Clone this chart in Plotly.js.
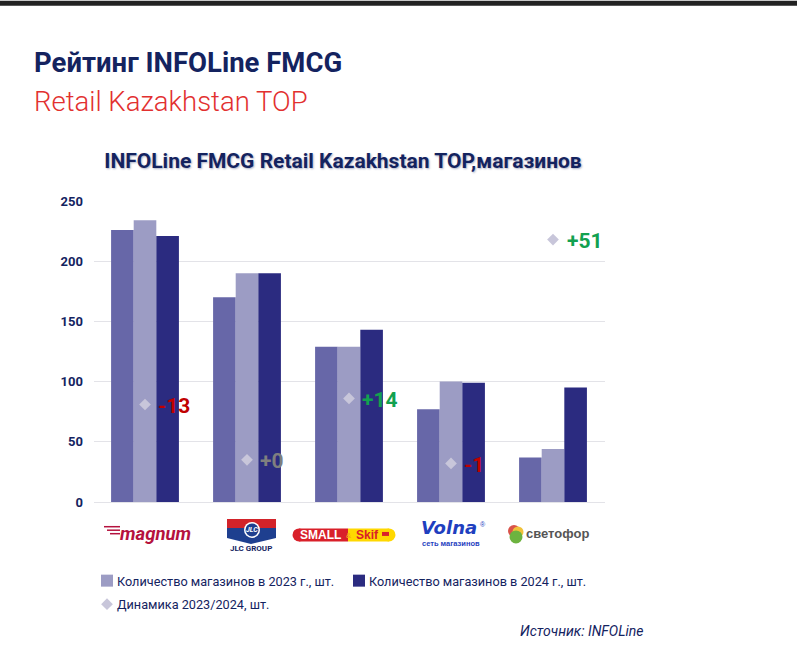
<!DOCTYPE html>
<html><head><meta charset="utf-8">
<script src="https://cdn.plot.ly/plotly-3.0.1.min.js"></script>
<style>html,body{margin:0;padding:0;background:#fff}#c{width:797px;height:657px}</style></head>
<body><div id="c"></div>
<script>
const categories = ["Magnum","JLC Group","Small & Skif","Volna","Светофор"];
const shopsEarlier = [226,170,129,77,37];
const shops2023 = [234,190,129,100,44];
const shops2024 = [221,190,143,99,95];
const dynamicsPos = [81,35,86,32,218];
const dynamicsText = ["-13","+0","+14","-1","+51"];
const dynamicsColors = ["#C00000","#7F7F7F","#12A150","#C00000","#12A150"];
const name2023 = "Количество магазинов в 2023 г., шт.";
const name2024 = "Количество магазинов в 2024 г., шт.";
const nameDyn = "Динамика 2023/2024, шт.";

const L=94,R=605,T=200.5,B=502;
const X=p=>(p-L)/(R-L), Y=p=>(B-p)/(B-T);
const navy="#14235F", rb="Roboto,sans-serif", ls="'Liberation Sans',sans-serif";
const rect=(x0,y0,x1,y1,c)=>({type:"rect",xref:"paper",yref:"paper",x0:X(x0),x1:X(x1),y0:Y(y1),y1:Y(y0),fillcolor:c,line:{width:0},layer:"above"});
const circ=(cx,cy,r,c)=>({type:"circle",xref:"paper",yref:"paper",x0:X(cx-r),x1:X(cx+r),y0:Y(cy+r),y1:Y(cy-r),fillcolor:c,line:{width:0},layer:"above"});
const txt=(x,y,t,size,color,anchor,family,extra)=>({xref:"paper",yref:"paper",x:X(x),y:Y(y),text:t,showarrow:false,xanchor:anchor||"left",yanchor:"middle",font:Object.assign({size:size,color:color,family:family||rb},extra||{}),borderpad:0});

const traces=[
 {type:"bar",x:categories,y:shopsEarlier,name:"Количество магазинов, шт.",marker:{color:"#6767A8"},showlegend:false},
 {type:"bar",x:categories,y:shops2023,name:name2023,marker:{color:"#9C9CC4"}},
 {type:"bar",x:categories,y:shops2024,name:name2024,marker:{color:"#2B2B80"}},
 {type:"scatter",mode:"markers",x:categories,y:dynamicsPos,name:nameDyn,marker:{symbol:"diamond",size:9,color:"#C8C6DA"}}
];

const dynAnn=categories.map((c,i)=>({xref:"x",yref:"y",x:c,y:dynamicsPos[i],text:"<b>"+dynamicsText[i]+"</b>",showarrow:false,xanchor:"left",yanchor:"middle",xshift:i==4?12:10.5,yshift:-1.5,font:{size:21,color:dynamicsColors[i],family:rb}}));

const layout={
 width:797,height:657,paper_bgcolor:"#fff",plot_bgcolor:"#fff",
 margin:{l:L,r:797-R,t:T,b:657-B,autoexpand:false},
 barmode:"group",bargap:0.335,bargroupgap:0,
 title:{text:"<b>INFOLine FMCG Retail Kazakhstan TOP,магазинов</b>",x:343/797,xanchor:"center",y:1-161/657,yanchor:"middle",font:{size:21,color:navy,family:rb,shadow:"1px 1px 2px rgba(20,35,95,0.35)"}},
 xaxis:{type:"category",categoryorder:"array",categoryarray:categories,showticklabels:false,showgrid:false,zeroline:false,showline:false,ticks:""},
 yaxis:{range:[0,250],tickvals:[0,50,100,150,200,250],showgrid:true,gridcolor:"#E3E3E8",gridwidth:1.2,zeroline:true,zerolinecolor:"#E3E3E8",zerolinewidth:1.2,showline:false,ticks:"",ticklabelstandoff:10,tickfont:{size:13,color:navy,family:rb,weight:700}},
 legend:{orientation:"h",x:X(77),xanchor:"left",y:Y(566),yanchor:"top",entrywidth:205,entrywidthmode:"pixels",font:{size:12.7,color:navy,family:rb},bgcolor:"rgba(0,0,0,0)",traceorder:"normal"},
 shapes:[
  rect(0,0,797,5,"#222222"),
  // JLC logo
  rect(227,519,276,528,"#D2232A"), rect(227,528,276,538,"#1E3F8F"),
  {type:"path",xref:"paper",yref:"paper",path:`M ${X(227)} ${Y(538)} L ${X(251)} ${Y(544)} L ${X(276)} ${Y(538)} Z`,fillcolor:"#1E3F8F",line:{width:0},layer:"above"},
  circ(252,530,8,"#FFFFFF"), circ(252,530,6.5,"#1E3F8F"),
  // Small & Skif
  circ(299,535,6.5,"#D9202A"), rect(299,528.5,348,541.5,"#D9202A"),
  rect(348,528.5,389,541.5,"#FFD800"), circ(389,535,6.5,"#FFD800"),
  rect(382,532,389,536,"#D9202A"),
  // Svetofor
  circ(514,531,6,"#D9534A"), circ(518,532,5.5,"#F0C23A"), circ(516,537,6.5,"#6DB33F"),
  // Magnum wing
  rect(104,526,120,527.5,"#B5123E"), rect(107,529.5,120,531,"#B5123E"), rect(110,533,120,534.5,"#B5123E")
 ],
 annotations:[
  txt(33,62,"<b>Рейтинг INFOLine FMCG</b>",27.5,navy,"left",rb),
  txt(33,101,"Retail Kazakhstan TOP",27.5,"#E2302F","left",rb,{weight:300}),
  txt(645,631,"<i>Источник: INFOLine</i>",14,navy,"right",rb),
  ...dynAnn,
  txt(155,534,"<b><i>magnum</i></b>",18.5,"#B5123E","center",rb),
  txt(252,530,"<b><i>JLC</i></b>",7,"#FFFFFF","center",rb),
  txt(251,549,"<b>JLC GROUP</b>",8,navy,"center",rb),
  txt(320,535,"<b>SMALL</b>",12,"#FFFFFF","center",ls),
  txt(348,536,"<b>&</b>",7,"#F5A623","center",ls),
  txt(367,535,"<b>Skif</b>",12,"#D9202A","center",ls),
  txt(449,528,"<b><i>Volna</i></b>",18,"#1F3FBF","center","'DejaVu Sans',sans-serif"),
  txt(483,525,"®",7,"#1F3FBF","center",ls),
  txt(451,544,"<b>сеть магазинов</b>",7.5,"#1F3FBF","center",ls),
  txt(525,534,"<b>светофор</b>",13,"#555555","left",ls)
 ]
};
Plotly.newPlot("c",traces,layout,{displayModeBar:false,responsive:false}).then(()=>{
  // fine-tune the native legend entries to the reference's spacing
  const sb=document.querySelector(".legend .scrollbox");
  if(sb) sb.removeAttribute("clip-path");
  document.querySelectorAll(".legend .traces").forEach((el,i)=>{
    const m=/translate\(\s*([-\d.]+)[ ,]+([-\d.]+)/.exec(el.getAttribute("transform")||"");
    if(m){
      const dx=i==1?2:0, dy=i==2?4:0;
      el.setAttribute("transform",`translate(${+m[1]+dx},${+m[2]+dy})`);
    }
    const sym=el.querySelector(".legendsymbols");
    if(sym) sym.setAttribute("transform","translate(10,0)");
    el.querySelectorAll("path.legendbar").forEach(p=>p.setAttribute("transform",(p.getAttribute("transform")||"")+" scale(0.7)"));
  });
});
</script></body></html>
